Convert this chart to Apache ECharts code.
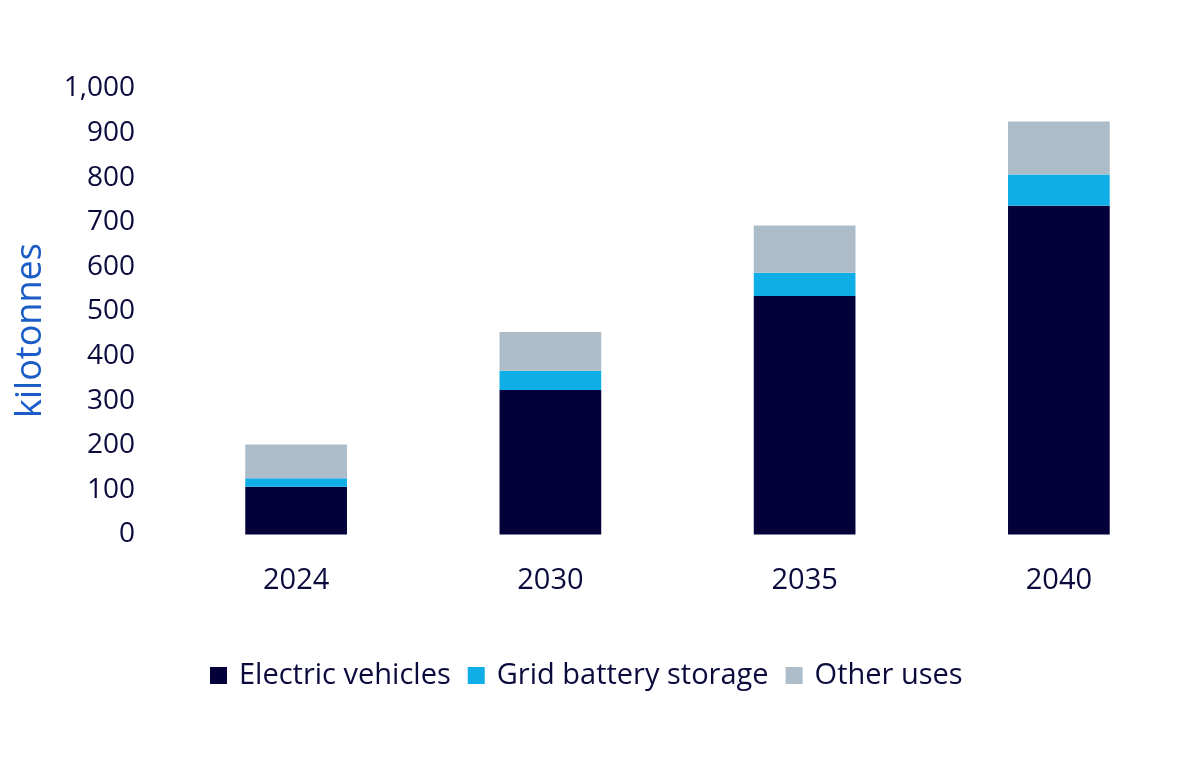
<!DOCTYPE html>
<html>
<head>
<meta charset="utf-8">
<script src="https://cdn.jsdelivr.net/npm/echarts@6/dist/echarts.min.js"></script>
<style>
html, body { margin: 0; padding: 0; background: #fff; }
#chart { width: 1200px; height: 773px; }
</style>
</head>
<body>
<div id="chart"></div>
<script>
var years = ['2024', '2030', '2035', '2040'];
var electricVehicles = [107, 324, 535, 737];
var gridStorage = [19, 43, 52, 70];
var otherUses = [76, 87, 106, 119];
var yTicks = [0, 1000, 100];

var TEXT_COLOR = '#0b0a3d';
var FONT = 'Open Sans';

function barSeries(name, data, color) {
	return {
		name: name,
		type: 'bar',
		stack: 'total',
		barCategoryGap: '60%',
		itemStyle: { color: color },
		data: data
	};
}

var chart = echarts.init(document.getElementById('chart'));
chart.setOption({
	animation: false,
	textStyle: { fontFamily: FONT },
	grid: { left: 169, right: 14, top: 88.5, bottom: 238.5, containLabel: false },
	legend: {
		bottom: 78,
		left: 205,
		itemWidth: 17,
		itemHeight: 17,
		itemGap: 17,
		icon: 'rect',
		textStyle: { fontFamily: FONT, fontSize: 29, color: TEXT_COLOR, padding: [0, 0, 0, 7] },
		data: ['Electric vehicles', 'Grid battery storage', 'Other uses']
	},
	xAxis: {
		type: 'category',
		data: years,
		axisLine: { show: false },
		axisTick: { show: false },
		axisLabel: { fontFamily: FONT, fontSize: 29, color: TEXT_COLOR, margin: 32 }
	},
	yAxis: {
		type: 'value',
		min: yTicks[0],
		max: yTicks[1],
		interval: yTicks[2],
		name: 'kilotonnes',
		nameLocation: 'middle',
		nameGap: 120,
		nameTextStyle: { fontFamily: FONT, fontSize: 36, color: '#1b5dc6', padding: [0, 38, 0, 0] },
		splitLine: { show: false },
		axisLine: { show: false },
		axisTick: { show: false },
		axisLabel: {
			fontFamily: FONT, fontSize: 28, color: TEXT_COLOR, margin: 34,
			formatter: function (v) { return v.toLocaleString('en-US'); }
		}
	},
	series: [
		barSeries('Electric vehicles', electricVehicles, '#03003a'),
		barSeries('Grid battery storage', gridStorage, '#10aee6'),
		barSeries('Other uses', otherUses, '#adbcc9')
	]
});
</script>
</body>
</html>
